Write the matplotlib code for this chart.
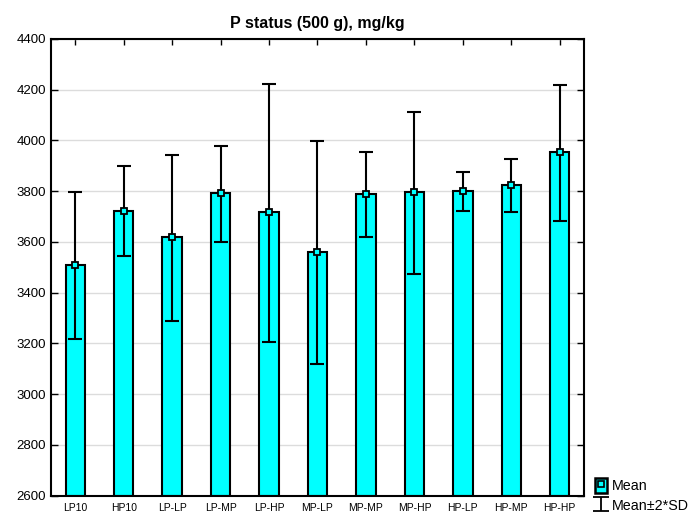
import numpy as np
import matplotlib.pyplot as plt
from matplotlib.patches import Patch
from matplotlib.lines import Line2D

plt.rcParams['font.family'] = ['Liberation Sans', 'DejaVu Sans']

# data
groups = ['LP10', 'HP10', 'LP-LP', 'LP-MP', 'LP-HP', 'MP-LP',
          'MP-MP', 'MP-HP', 'HP-LP', 'HP-MP', 'HP-HP']
means = [3508, 3720, 3618, 3791, 3718, 3562, 3790, 3797, 3799, 3823, 3955]
upper = [3796, 3898, 3942, 3978, 4222, 3999, 3953, 4113, 3875, 3927, 4218]
lower = [3216, 3545, 3287, 3600, 3207, 3117, 3619, 3473, 3721, 3718, 3682]
yticks = [2600, 2800, 3000, 3200, 3400, 3600, 3800, 4000, 4200, 4400]

bar_col = '#00ffff'
x = np.arange(len(groups))
means = np.array(means)
yerr = [means - np.array(lower), np.array(upper) - means]

fig = plt.figure(figsize=(6.96, 5.17), dpi=100)
ax = fig.add_axes([0.0733, 0.0414, 0.7657, 0.8832])

ax.bar(x, means - 2600, bottom=2600, width=0.4, color=bar_col,
       edgecolor='black', linewidth=1.5, zorder=2)
ax.errorbar(x, means, yerr=yerr, fmt='none', ecolor='black', elinewidth=1.5,
            capsize=5, capthick=1.5, zorder=3)
ax.plot(x, means, 's', ms=5, mfc=bar_col, mec='black', mew=1.3, zorder=4)

ax.set_xlim(-0.5, len(groups) - 0.5)
ax.set_ylim(2600, 4400)
ax.set_yticks(yticks)
ax.set_xticks(x)
ax.set_xticklabels(groups, fontsize=7.5)
ax.tick_params(axis='y', labelsize=9.5, direction='in', right=True, length=5, width=1)
ax.tick_params(axis='x', direction='in', top=True, length=4, width=1, pad=5)
ax.grid(axis='y', color='#dcdcdc', linewidth=1, zorder=0)
ax.set_axisbelow(True)
for s in ax.spines.values():
    s.set_linewidth(1.5)

ax.set_title('P status (500 g), mg/kg', fontsize=11.5, fontweight='bold', pad=8)

# legend (error handle drawn off-screen so the caps show up)
mean_h = (Patch(facecolor=bar_col, edgecolor='black', linewidth=1.8),
          Line2D([], [], marker='s', ls='none', ms=5, mfc=bar_col, mec='black', mew=1.2))
err_h = ax.errorbar([-5], [3000], yerr=[[100], [100]], fmt='none', ecolor='black',
                    elinewidth=1.3, capsize=6, capthick=1.3, clip_on=True)
fig.legend([mean_h, err_h], ['Mean', 'Mean±2*SD'], loc='lower left',
           bbox_to_anchor=(0.855, 0.008), frameon=False, fontsize=10.3,
           handlelength=0.85, handleheight=1.2, handletextpad=0.3, labelspacing=0.3,
           borderaxespad=0.0, borderpad=0.0)

fig.savefig('out.png', dpi=100)
